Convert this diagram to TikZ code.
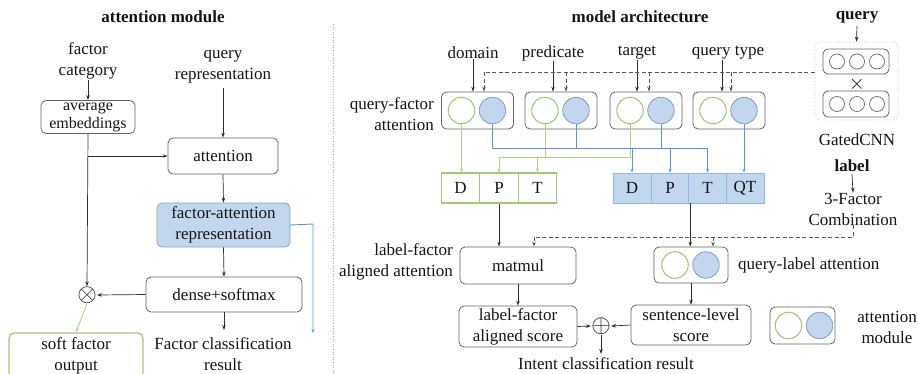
\documentclass[tikz,border=0pt]{standalone}
\usepackage{fontspec}
\setmainfont{Liberation Serif}
\usetikzlibrary{arrows.meta,calc}
\definecolor{gbor}{RGB}{160,202,118}
\definecolor{gline}{RGB}{172,210,135}
\definecolor{bfill}{RGB}{194,214,238}
\definecolor{bbor}{RGB}{130,158,198}
\definecolor{bcell}{RGB}{145,182,225}
\definecolor{bline}{RGB}{85,152,215}
\definecolor{txt}{RGB}{20,20,20}
\definecolor{ln}{RGB}{45,45,45}
\definecolor{bx}{RGB}{100,100,100}
\begin{document}
\begin{tikzpicture}[x=1pt,y=-1pt,
  every node/.style={text=txt, font=\fontsize{17}{21}\selectfont, inner sep=0pt},
  lbl/.style={align=center},
  rbox/.style={draw=bx, rounded corners=5pt, line width=0.8pt, align=center},
  blk/.style={rbox, minimum width=72pt, minimum height=37pt},
  gc/.style={circle, draw=gbor, line width=1.1pt, minimum size=26.5pt},
  bc/.style={circle, draw=bbor, fill=bfill, line width=0.8pt, minimum size=26.5pt},
  sc/.style={circle, draw=bx, line width=0.7pt, minimum size=15pt},
  gcell/.style={draw=gbor, line width=1.1pt, minimum width=38.5pt, minimum height=30pt},
  bcellst/.style={draw=bcell, fill=bfill, line width=0.8pt, minimum width=37.8pt, minimum height=30pt},
  arr/.style={draw=ln, line width=0.7pt, -{Stealth[length=5pt,width=3.5pt]}},
  ln/.style={draw=ln, line width=0.7pt},
  garr/.style={draw=gline, line width=0.9pt, -{Stealth[length=4pt,width=3pt]}},
  gln/.style={draw=gline, line width=0.9pt},
  barr/.style={draw=bline, line width=0.9pt, -{Stealth[length=4pt,width=3pt]}},
  bln/.style={draw=bline, line width=0.9pt},
  dln/.style={draw=ln!80, line width=0.7pt, dash pattern=on 4pt off 2.5pt},
  darr/.style={dln, -{Stealth[length=5pt,width=3.5pt]}},
  ttl/.style={font=\fontsize{17}{21}\selectfont\bfseries},
  opsym/.style={scale=1.45}
]
\useasboundingbox (0,0) rectangle (918,373);

% ---------------- left panel ----------------
\node[ttl] (t1) at (163,17) {attention module};
\node[lbl] (fc) at (88,61) {factor\\category};
\node[rbox, minimum width=94pt, minimum height=33pt, font=\fontsize{16}{18.5}\selectfont] (ae) at (88,117) {average\\embeddings};
\node[lbl] (qr) at (223,67) {query\\representation};
\node[rbox, minimum width=110pt, minimum height=36pt] (att) at (223,156) {attention};
\node[rbox, draw=bcell!90!black, fill=bfill, minimum width=133pt, minimum height=44pt] (far) at (223.5,225) {factor-attention\\representation};
\node[rbox, minimum width=156pt, minimum height=35pt] (ds) at (224,294.5) {dense+softmax};
\node[opsym] (ot) at (87,295) {$\otimes$};
\node[lbl] (fcr) at (223,354) {Factor classification\\result};
\coordinate (fcrin) at (224,330);
\node[rbox, draw=gbor, line width=1.3pt, minimum width=134pt, minimum height=62pt, text depth=20pt] (sfo) at (76,364) {soft factor\\output};
\coordinate (bend) at (313,224);
\coordinate (bendend) at (313,333);

\draw[arr] (fc.south) -- (ae.north);
\draw[arr] (qr.south) ++(0,4) -- (att.north);
\draw[arr] (ae.south) -- (ot.north);
\draw[arr] (ae.south |- att.west) -- (att.west);
\draw[arr] (att.south) -- (far.north);
\draw[arr] (far.south) -- (ds.north);
\draw[arr] (ds.west) -- (ot.east);
\draw[arr] (ds.south) -- (fcrin);
\draw[barr] (far.east) -- (bend) -- (bendend);
\draw[garr] (ot.south) -- (sfo.north);

% separator
\draw[draw=gray!70, line width=0.6pt, dotted] (333,24) -- (333,373);

% ---------------- right panel ----------------
\node[ttl] (t2) at (640,17) {model architecture};
\node[ttl] (q) at (857,17) {query};
\node[rbox, draw=gray!50, dotted, minimum width=83pt, minimum height=78pt] (gated) at (856.5,81) {};
\node[rbox, minimum width=66pt, minimum height=25pt] (gt) at (856,61.5) {};
\node[rbox, minimum width=66pt, minimum height=26pt] (gb) at (856,104) {};
\foreach \i/\xx in {1/837,2/857,3/877}{
  \node[sc] (gt\i) at (\xx,61.5) {};
  \node[sc] (gb\i) at (\xx,104) {};
}
\node[scale=1.2] (times) at (857,84) {$\times$};
\node (gcnn) at (857,140) {GatedCNN};
\draw[arr] (q.south) ++(0,3) -- (gated.north);

\node (dom) at (473,53) {domain};
\node (pred) at (553,53) {predicate};
\node (targ) at (637,53) {target};
\node (qtype) at (728,53) {query type};

\foreach \k/\xx in {1/477.5,2/561,3/646,4/729}{
  \node[blk] (qf\k) at (\xx,110.5) {};
  \node[gc] (c\k1) at ($(qf\k)+(-16,0)$) {};
  \node[bc] (c\k2) at ($(qf\k)+(15,0)$) {};
}
\node[align=right, anchor=east] (qfa) at (434,114) {query-factor\\attention};

\draw[arr] (dom.south) -- (dom.south |- qf1.north);
\draw[arr] (pred.south) -- (pred.south |- qf2.north);
\draw[arr] (targ.south) -- (targ.south |- qf3.north);
\draw[arr] ([xshift=-6pt]qtype.south) -- ([xshift=-6pt]qtype.south |- qf4.north);

\coordinate (d1) at (484,72);
\coordinate (d2) at (566,72);
\coordinate (d3) at (649,72);
\coordinate (d4) at (731,72);
\draw[dln] (gated.west |- d1) -- (d1);
\foreach \k in {1,2,3,4}{
  \draw[darr] (d\k) -- (d\k |- qf\k.north);
}

% factor cells
\node[gcell] (g1) at (460.5,188) {D};
\node[gcell] (g2) at (499,188) {P};
\node[gcell] (g3) at (537.5,188) {T};
\node[bcellst] (b1) at (632,188) {D};
\node[bcellst] (b2) at (670,188) {P};
\node[bcellst] (b3) at (707.5,188) {T};
\node[bcellst] (b4) at (745,188) {QT};

% green links
\coordinate (gy) at (0,157);
\draw[garr] (c11.south) -- (c11.south |- g1.north);
\draw[gln] (c21.south) -- (c21.south |- gy);
\draw[gln] (c31.south) -- (c31.south |- gy) -- (g2.north |- gy);
\draw[garr] (g2.north |- gy) -- (g2.north);
\draw[garr] (g3.north |- gy) -- (g3.north);

% blue links
\coordinate (by) at (0,148);
\draw[bln] (c12.south) -- (c12.south |- by) -- (b3.north |- by);
\draw[bln] (c22.south) -- (c22.south |- by);
\draw[bln] (c32.south) -- (c32.south |- by);
\draw[barr] (b1.north |- by) -- (b1.north);
\draw[barr] (b2.north |- by) -- (b2.north);
\draw[barr] (b3.north |- by) -- (b3.north);
\draw[barr] (c42.south) -- (c42.south |- b4.north);

% label
\node[ttl] (lab) at (852,166) {label};
\node[lbl] (f3) at (853,209) {3-Factor\\Combination};
\draw[arr] (lab.south) ++(0,2) -- (f3.north);

% lower blocks
\node[rbox, minimum width=116pt, minimum height=37pt] (mm) at (518,265.5) {matmul};
\node[align=right, anchor=east] (lfa) at (453,262) {label-factor\\aligned attention};
\node[blk, minimum width=74pt, minimum height=36pt] (ql) at (691,265) {};
\node[gc] (qlg) at ($(ql)+(-16,0)$) {};
\node[bc] (qlb) at ($(ql)+(15,0)$) {};
\node[anchor=west] (qla) at (738,265) {query-label attention};

\coordinate (dy) at (0,237);
\draw[dln] (f3.south) -- (f3.south |- dy) -- (534,237);
\draw[darr] (534,237) -- (534,0 |- mm.north);
\draw[darr] (713,237) -- (713,0 |- ql.north);

\draw[arr] (g2.south) -- (g2.south |- mm.north);
\draw[arr] ([xshift=2pt]b3.south west) -- ([xshift=2pt]b3.south west |- ql.north);

\node[rbox, minimum width=118pt, minimum height=41pt] (lfs) at (518,326.5) {label-factor\\aligned score};
\node[rbox, minimum width=120pt, minimum height=40pt] (sls) at (691,325) {sentence-level\\score};
\node[opsym] (op) at (601,326) {$\oplus$};
\coordinate (opend) at (601,354);
\node (icr) at (606,364) {Intent classification result};

\draw[arr] (lfs.east) -- (op.west);
\draw[arr] (mm.south) -- (lfs.north);
\draw[arr] (ql.south) -- (sls.north);
\draw[arr] (sls.west) -- (op.east);
\draw[arr] (op.south) -- (opend);

% legend
\node[blk, minimum width=65pt, minimum height=37pt] (leg) at (802.5,325.5) {};
\node[gc] (legg) at ($(leg)+(-14,0)$) {};
\node[bc] (legb) at ($(leg)+(17,0)$) {};
\node[lbl] (legt) at (887,327) {attention\\module};
\end{tikzpicture}
\end{document}
